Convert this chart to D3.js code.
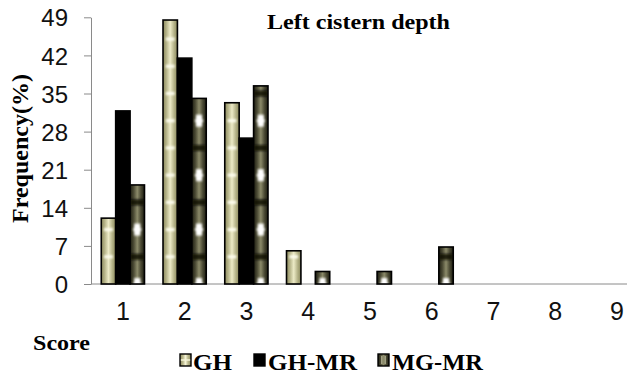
<!DOCTYPE html>
<html>
<head>
<meta charset="utf-8">
<script src="https://cdn.jsdelivr.net/npm/d3@7"></script>
<style>
  html, body { margin: 0; padding: 0; background: #fff; }
  svg { display: block; }
</style>
</head>
<body>
<svg id="chart" width="627" height="373"></svg>
<script>
// Score categories on the x axis
const categories = ["1", "2", "3", "4", "5", "6", "7", "8", "9"];
// Frequency (%) of each score per group
const ghValues   = [12.1, 48.5, 33.3, 6.1, 0, 0, 0, 0, 0];
const ghmrValues = [31.8, 41.5, 26.8, 0, 0, 0, 0, 0, 0];
const mgmrValues = [18.2, 34.1, 36.4, 2.3, 2.3, 6.8, 0, 0, 0];
const seriesNames = ["GH", "GH-MR", "MG-MR"];
const yTicks = [0, 7, 14, 21, 28, 35, 42, 49];

const series = [
  { name: seriesNames[0], values: ghValues },
  { name: seriesNames[1], values: ghmrValues },
  { name: seriesNames[2], values: mgmrValues }
];

const svg = d3.select("#chart");
const defs = svg.append("defs");

// Fills: horizontal shading across each bar
function hGrad(id, stops) {
  const g = defs.append("linearGradient").attr("id", id)
    .attr("x1", "0").attr("x2", "1").attr("y1", "0").attr("y2", "0");
  stops.forEach(([o, c]) => g.append("stop").attr("offset", o).attr("stop-color", c));
}
hGrad("ghFill", [[0, "#8c8a5e"], [0.22, "#b2b085"], [0.5, "#eceac6"], [0.78, "#b2b085"], [1, "#8c8a5e"]]);
hGrad("mgFill", [[0, "#1c1c10"], [0.25, "#4c4b35"], [0.5, "#8b8a69"], [0.75, "#4c4b35"], [1, "#1c1c10"]]);
defs.append("filter").attr("id", "soft").attr("x", "-50%").attr("y", "-50%").attr("width", "200%").attr("height", "200%")
  .append("feGaussianBlur").attr("stdDeviation", 0.9);

// Scales
const x0 = d3.scaleBand().domain(categories).range([92, 647.75]).paddingInner(0.3).paddingOuter(0.15);
const x1 = d3.scaleBand().domain(seriesNames).range([0, x0.bandwidth()]);
const y = d3.scaleLinear().domain([0, 49]).range([284, 17.3]);

// Axes
const axisColor = "#8a8a8a";
const yAxis = svg.append("g").attr("transform", "translate(91,0)")
  .call(d3.axisLeft(y).tickValues(yTicks).tickSize(7).tickSizeOuter(0).tickPadding(16));
yAxis.select(".domain").attr("stroke", axisColor);
yAxis.selectAll(".tick line").attr("stroke", axisColor);
yAxis.selectAll(".tick text")
  .attr("font-family", "'Liberation Sans', Arial, sans-serif")
  .attr("font-size", 24).attr("fill", "#111").attr("dy", "0.36em");

svg.append("line").attr("x1", 91).attr("x2", 627).attr("y1", y(0)).attr("y2", y(0))
  .attr("stroke", axisColor).attr("stroke-width", 1);

const xAxis = svg.append("g").attr("transform", `translate(0,${y(0)})`)
  .call(d3.axisBottom(x0).tickSize(0).tickPadding(18));
xAxis.select(".domain").remove();
xAxis.selectAll(".tick text")
  .attr("font-family", "'Liberation Sans', Arial, sans-serif")
  .attr("font-size", 25).attr("fill", "#111").attr("dy", "0.71em");

// Bars
const barData = [];
categories.forEach((c, i) => {
  series.forEach(s => {
    if (s.values[i] > 0) barData.push({ cat: c, name: s.name, value: s.values[i] });
  });
});

const bars = svg.append("g");
barData.forEach((d, i) => {
  const bx = x0(d.cat) + x1(d.name);
  const bw = x1.bandwidth();
  const by = y(d.value);
  const bh = y(0) - by;
  const clipId = "clip" + i;
  defs.append("clipPath").attr("id", clipId)
    .append("rect").attr("x", bx).attr("y", by).attr("width", bw).attr("height", bh);
  const g = bars.append("g");
  if (d.name === "GH") {
    g.append("rect").attr("x", bx).attr("y", by).attr("width", bw).attr("height", bh).attr("fill", "url(#ghFill)");
    const deco = g.append("g").attr("clip-path", `url(#${clipId})`).attr("filter", "url(#soft)");
    for (let v = 5; v < d.value; v += 5) {
      deco.append("rect").attr("x", bx + bw * 0.2).attr("width", bw * 0.6)
        .attr("y", y(v) - 1.5).attr("height", 3).attr("fill", "#fffff2");
    }
  } else if (d.name === "GH-MR") {
    g.append("rect").attr("x", bx).attr("y", by).attr("width", bw).attr("height", bh).attr("fill", "#000");
  } else {
    g.append("rect").attr("x", bx).attr("y", by).attr("width", bw).attr("height", bh).attr("fill", "url(#mgFill)");
    const deco = g.append("g").attr("clip-path", `url(#${clipId})`).attr("filter", "url(#soft)");
    for (let v = 5; v < d.value + 3; v += 10) {
      deco.append("rect").attr("x", bx).attr("width", bw)
        .attr("y", y(v) - 3).attr("height", 6).attr("fill", "#0b0b06").attr("opacity", 0.85);
    }
    for (let v = 0; v < d.value - 1; v += 10) {
      const cy = y(v), cx = bx + bw / 2;
      deco.append("path")
        .attr("d", `M${cx - 4.5},${cy} L${cx},${cy - 6} L${cx + 4.5},${cy} L${cx},${cy + 6} Z`)
        .attr("fill", "#ffffff");
      deco.append("rect").attr("x", cx - 3).attr("width", 6).attr("y", cy - 6).attr("height", 12).attr("fill", "#fff");
    }
  }
  g.append("rect").attr("x", bx).attr("y", by).attr("width", bw).attr("height", bh)
    .attr("fill", "none").attr("stroke", "#000").attr("stroke-width", 1.6);
});

// Titles
const serif = "'Liberation Serif', 'Times New Roman', serif";
svg.append("text").attr("x", 267).attr("y", 28.5)
  .attr("font-family", serif).attr("font-weight", "bold").attr("font-size", 21)
  .attr("textLength", 183).attr("lengthAdjust", "spacingAndGlyphs")
  .attr("fill", "#000").text("Left cistern depth");

svg.append("text").attr("transform", "translate(28,148.5) rotate(-90)")
  .attr("text-anchor", "middle")
  .attr("font-family", serif).attr("font-weight", "bold").attr("font-size", 24)
  .attr("fill", "#000").text("Frequency(%)");

svg.append("text").attr("x", 33).attr("y", 350)
  .attr("font-family", serif).attr("font-weight", "bold").attr("font-size", 21)
  .attr("textLength", 57).attr("lengthAdjust", "spacingAndGlyphs")
  .attr("fill", "#000").text("Score");

// Legend
const legendItems = [
  { name: seriesNames[0], mx: 180, tx: 193, tw: 39 },
  { name: seriesNames[1], mx: 254, tx: 268, tw: 89 },
  { name: seriesNames[2], mx: 378, tx: 392, tw: 91 }
];
const legend = svg.append("g");
legendItems.forEach(it => {
  const g = legend.append("g");
  const mw = 11, mh = 12, my = 354;
  if (it.name === "GH") {
    g.append("rect").attr("x", it.mx).attr("y", my).attr("width", mw).attr("height", mh).attr("fill", "url(#ghFill)");
    g.append("line").attr("x1", it.mx + mw / 2).attr("x2", it.mx + mw / 2).attr("y1", my).attr("y2", my + mh)
      .attr("stroke", "#f4f3d6").attr("stroke-width", 1.5);
    g.append("line").attr("x1", it.mx).attr("x2", it.mx + mw).attr("y1", my + mh / 2).attr("y2", my + mh / 2)
      .attr("stroke", "#f4f3d6").attr("stroke-width", 1.5);
  } else if (it.name === "GH-MR") {
    g.append("rect").attr("x", it.mx).attr("y", my).attr("width", mw).attr("height", mh).attr("fill", "#000");
  } else {
    g.append("rect").attr("x", it.mx).attr("y", my).attr("width", mw).attr("height", mh).attr("fill", "url(#mgFill)");
    [0.35, 0.65].forEach(f => g.append("line")
      .attr("x1", it.mx + mw * f).attr("x2", it.mx + mw * f).attr("y1", my + 2).attr("y2", my + mh - 2)
      .attr("stroke", "#c8c7a8").attr("stroke-width", 1));
  }
  g.append("rect").attr("x", it.mx).attr("y", my).attr("width", mw).attr("height", mh)
    .attr("fill", "none").attr("stroke", "#000").attr("stroke-width", 1.4);
  g.append("text").attr("x", it.tx).attr("y", 369.5)
    .attr("font-family", serif).attr("font-weight", "bold").attr("font-size", 23)
    .attr("textLength", it.tw).attr("lengthAdjust", "spacingAndGlyphs")
    .attr("fill", "#000").text(it.name);
});
</script>
</body>
</html>
